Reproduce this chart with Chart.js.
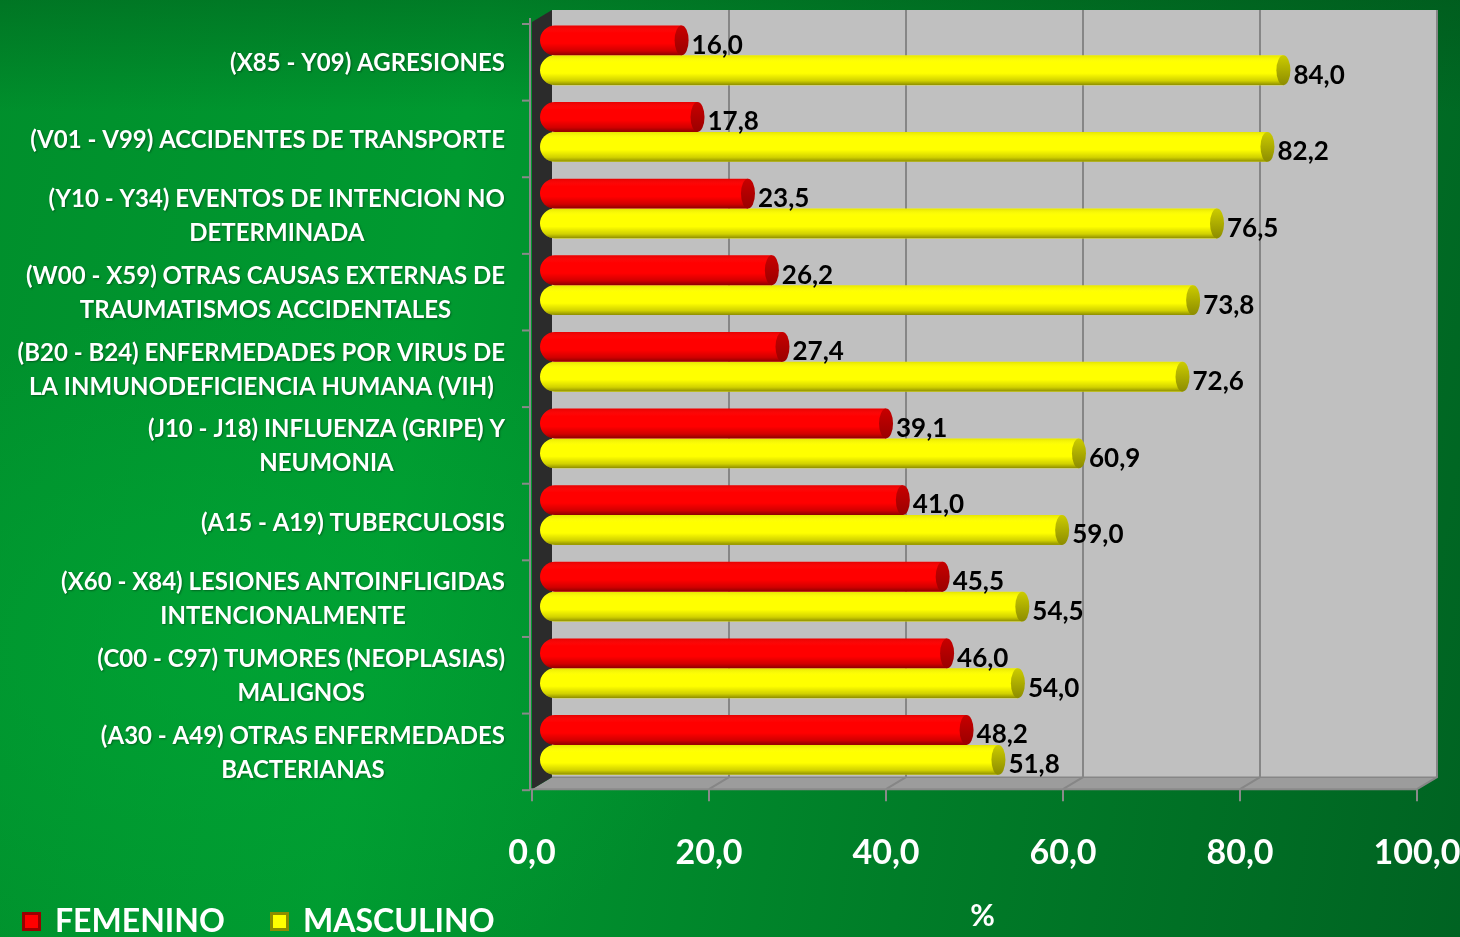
<!DOCTYPE html>
<html>
<head>
<meta charset="utf-8">
<script src="https://cdn.jsdelivr.net/npm/chart.js@4.4.1/dist/chart.umd.min.js"></script>
<style>
  html, body { margin: 0; padding: 0; }
  body {
    width: 1460px; height: 937px; overflow: hidden;
    background:
      radial-gradient(ellipse 700px 500px at 250px 650px, rgba(0,170,55,0.55), rgba(0,170,55,0) 70%),
      linear-gradient(180deg, rgba(0,70,20,0.35) 0%, rgba(0,70,20,0) 12%),
      linear-gradient(100deg, #008f2c 0%, #009a30 30%, #007d28 65%, #006322 100%);
  }
  #wrap { position: absolute; left: 0; top: 0; width: 1460px; height: 937px; }
</style>
</head>
<body>
<div id="wrap"><canvas id="chart" width="1460" height="937"></canvas></div>
<script>
/* ── data ── */
const CATEGORIES = [
  ['(X85 - Y09) AGRESIONES'],
  ['(V01 - V99) ACCIDENTES DE TRANSPORTE'],
  ['(Y10 - Y34) EVENTOS DE INTENCION NO', 'DETERMINADA'],
  ['(W00 - X59) OTRAS CAUSAS EXTERNAS DE', 'TRAUMATISMOS ACCIDENTALES'],
  ['(B20 - B24) ENFERMEDADES POR VIRUS DE', 'LA INMUNODEFICIENCIA HUMANA (VIH)'],
  ['(J10 - J18) INFLUENZA (GRIPE) Y', 'NEUMONIA'],
  ['(A15 - A19) TUBERCULOSIS'],
  ['(X60 - X84) LESIONES ANTOINFLIGIDAS', 'INTENCIONALMENTE'],
  ['(C00 - C97) TUMORES (NEOPLASIAS)', 'MALIGNOS'],
  ['(A30 - A49) OTRAS ENFERMEDADES', 'BACTERIANAS'],
];
const FEMENINO  = [16.0, 17.8, 23.5, 26.2, 27.4, 39.1, 41.0, 45.5, 46.0, 48.2];
const MASCULINO = [84.0, 82.2, 76.5, 73.8, 72.6, 60.9, 59.0, 54.5, 54.0, 51.8];
const SERIES_NAMES = ['FEMENINO', 'MASCULINO'];
const X_TICKS = [0, 20, 40, 60, 80, 100];
const X_TITLE = '%';

const FONT = "Lato, 'Open Sans', sans-serif";
const COLORS = {
  red:    { body: '#ff0000', cap: '#c80000', dark: '#9a0000' },
  yellow: { body: '#ffff00', cap: '#cccc00', dark: '#8c8c00' },
  wall:   '#c0c0c0',
  floor:  '#9c9c9c',
  side:   '#2b2b2b',
  grid:   '#868686',
};
const fmt = v => v.toFixed(1).replace('.', ',');

/* ── 3D wall, floor, axes ── */
const DEPTH_BACK = 12, DEPTH_FRONT = -8;
const wallPlugin = {
  id: 'wall3d',
  beforeDatasetsDraw(chart) {
    const { ctx, chartArea: a, scales: { x } } = chart;
    const x0 = x.getPixelForValue(0), x100 = x.getPixelForValue(100);
    const top = a.top - 7, backBottom = a.bottom - 6, frontBottom = a.bottom + 6;
    ctx.save();
    // back wall
    ctx.fillStyle = COLORS.wall;
    ctx.fillRect(x0 + DEPTH_BACK, top, x100 - x0, backBottom - top);
    // floor
    ctx.fillStyle = COLORS.floor;
    ctx.beginPath();
    ctx.moveTo(x0 + DEPTH_BACK, backBottom);
    ctx.lineTo(x100 + DEPTH_BACK, backBottom);
    ctx.lineTo(x100 + DEPTH_FRONT, frontBottom);
    ctx.lineTo(x0 + DEPTH_FRONT, frontBottom);
    ctx.closePath();
    ctx.fill();
    // left side wall
    ctx.fillStyle = COLORS.side;
    ctx.beginPath();
    ctx.moveTo(x0 + DEPTH_BACK, top);
    ctx.lineTo(x0 + DEPTH_BACK, backBottom);
    ctx.lineTo(x0 + DEPTH_FRONT, frontBottom);
    ctx.lineTo(x0 + DEPTH_FRONT, top + 12);
    ctx.closePath();
    ctx.fill();
    // grid lines on wall and floor
    ctx.strokeStyle = COLORS.grid;
    ctx.lineWidth = 2;
    X_TICKS.slice(1).forEach(v => {
      const px = x.getPixelForValue(v);
      ctx.beginPath();
      ctx.moveTo(px + DEPTH_BACK, top);
      ctx.lineTo(px + DEPTH_BACK, backBottom);
      ctx.lineTo(px + DEPTH_FRONT, frontBottom);
      ctx.stroke();
    });
    // floor back edge
    ctx.lineWidth = 1.5;
    ctx.beginPath();
    ctx.moveTo(x0 + DEPTH_BACK, backBottom);
    ctx.lineTo(x100 + DEPTH_BACK, backBottom);
    ctx.stroke();
    // front axes with tick marks
    ctx.strokeStyle = '#8a8a8a';
    ctx.lineWidth = 2;
    const axX = x0 + DEPTH_FRONT - 2;
    ctx.beginPath();
    ctx.moveTo(axX, top + 8);
    ctx.lineTo(axX, frontBottom);
    ctx.lineTo(x100 + DEPTH_FRONT, frontBottom);
    ctx.stroke();
    const step = (a.bottom - a.top) / CATEGORIES.length;
    for (let i = 0; i <= CATEGORIES.length; i++) {
      const py = a.top + 7 + i * step;
      ctx.beginPath(); ctx.moveTo(axX - 8, py); ctx.lineTo(axX, py); ctx.stroke();
    }
    X_TICKS.forEach(v => {
      const px = x.getPixelForValue(v) + DEPTH_FRONT;
      ctx.beginPath(); ctx.moveTo(px, frontBottom); ctx.lineTo(px, frontBottom + 12); ctx.stroke();
    });
    ctx.restore();
  },
  afterDatasetsDraw(chart) {
    const { ctx } = chart;
    chart.data.datasets.forEach((ds, di) => {
      const pal = di === 0 ? COLORS.red : COLORS.yellow;
      chart.getDatasetMeta(di).data.forEach((el, i) => {
        const { x: ex, y: ey, base, height: h } = el.getProps(['x', 'y', 'base', 'height'], true);
        const t = ey - h / 2;
        ctx.save();
        // cylinder shading
        ctx.beginPath();
        ctx.roundRect(base, t, ex - base, h, [h / 2, 0, 0, h / 2]);
        ctx.clip();
        const g = ctx.createLinearGradient(0, t, 0, t + h);
        g.addColorStop(0, 'rgba(0,0,0,0.10)');
        g.addColorStop(0.25, 'rgba(255,255,255,0.0)');
        g.addColorStop(0.6, 'rgba(0,0,0,0.0)');
        g.addColorStop(0.85, 'rgba(0,0,0,0.18)');
        g.addColorStop(1, 'rgba(0,0,0,0.45)');
        ctx.fillStyle = g;
        ctx.fillRect(base, t, ex - base, h);
        ctx.restore();
        // end cap
        ctx.save();
        const gc = ctx.createLinearGradient(0, t, 0, t + h);
        gc.addColorStop(0, pal.cap);
        gc.addColorStop(1, pal.dark);
        ctx.fillStyle = gc;
        ctx.beginPath();
        ctx.ellipse(ex, ey, 7, h / 2, 0, 0, Math.PI * 2);
        ctx.fill();
        ctx.restore();
        // value label
        ctx.save();
        ctx.font = `700 26px ${FONT}`;
        ctx.fillStyle = '#000';
        ctx.textAlign = 'left';
        ctx.textBaseline = 'middle';
        ctx.fillText(fmt(ds.data[i]), ex + 10, ey + 5);
        ctx.restore();
      });
    });
  },
  afterDraw(chart) {
    const { ctx } = chart;
    // category labels: right-aligned block, lines centred in block
    ctx.save();
    ctx.font = `700 24px ${FONT}`;
    ctx.fillStyle = '#fff';
    ctx.textBaseline = 'middle';
    ctx.textAlign = 'center';
    ctx.shadowColor = 'rgba(0,0,0,0.35)';
    ctx.shadowOffsetX = 1; ctx.shadowOffsetY = 1; ctx.shadowBlur = 2;
    const right = 505, lh = 34;
    CATEGORIES.forEach((lines, i) => {
      const cy = chart.scales.y.getPixelForValue(i) + 8;
      const w = Math.max(...lines.map(l => ctx.measureText(l).width));
      const cx = right - w / 2;
      lines.forEach((l, k) => {
        ctx.fillText(l, cx, cy + (k - (lines.length - 1) / 2) * lh);
      });
    });
    ctx.restore();
    // legend
    ctx.save();
    const items = [
      { x: 22, text: SERIES_NAMES[0], pal: COLORS.red },
      { x: 270, text: SERIES_NAMES[1], pal: COLORS.yellow },
    ];
    items.forEach(it => {
      const ly = 912, s = 19;
      ctx.fillStyle = it.pal.dark;
      ctx.fillRect(it.x, ly, s, s);
      ctx.fillStyle = it.pal.body;
      ctx.fillRect(it.x + 3, ly + 3, s - 6, s - 6);
      ctx.font = `700 32px ${FONT}`;
      ctx.fillStyle = '#fff';
      ctx.textBaseline = 'middle';
      ctx.textAlign = 'left';
      ctx.fillText(it.text, it.x + 33, ly + 10);
    });
    ctx.restore();
  },
};

new Chart(document.getElementById('chart'), {
  type: 'bar',
  data: {
    labels: CATEGORIES,
    datasets: [
      { label: SERIES_NAMES[0], data: FEMENINO,  backgroundColor: COLORS.red.body,
        borderRadius: { topLeft: 15, bottomLeft: 15 }, borderSkipped: false },
      { label: SERIES_NAMES[1], data: MASCULINO, backgroundColor: COLORS.yellow.body,
        borderRadius: { topLeft: 15, bottomLeft: 15 }, borderSkipped: false },
    ],
  },
  options: {
    indexAxis: 'y',
    responsive: false,
    animation: false,
    devicePixelRatio: 1,
    layout: { padding: { left: 540, right: 35, top: 17, bottom: 3 } },
    datasets: { bar: { categoryPercentage: 0.78, barPercentage: 1.0 } },
    plugins: { legend: { display: false }, tooltip: { enabled: false } },
    scales: {
      x: {
        min: 0, max: 100,
        afterBuildTicks: s => { s.ticks = X_TICKS.map(v => ({ value: v })); },
        afterFit: s => { s.paddingLeft = 0; s.paddingRight = 0; },
        grid: { display: false, drawTicks: false },
        border: { display: false },
        ticks: {
          padding: 49, labelOffset: DEPTH_FRONT,
          color: '#fff', font: { family: FONT, size: 34, weight: '700' },
          callback: v => fmt(v),
        },
        title: {
          display: true, text: X_TITLE, color: '#fff',
          font: { family: FONT, size: 30, weight: '700' },
          padding: { top: -24, bottom: 0 },
        },
      },
      y: { display: false },
    },
  },
  plugins: [wallPlugin],
});
</script>
</body>
</html>
